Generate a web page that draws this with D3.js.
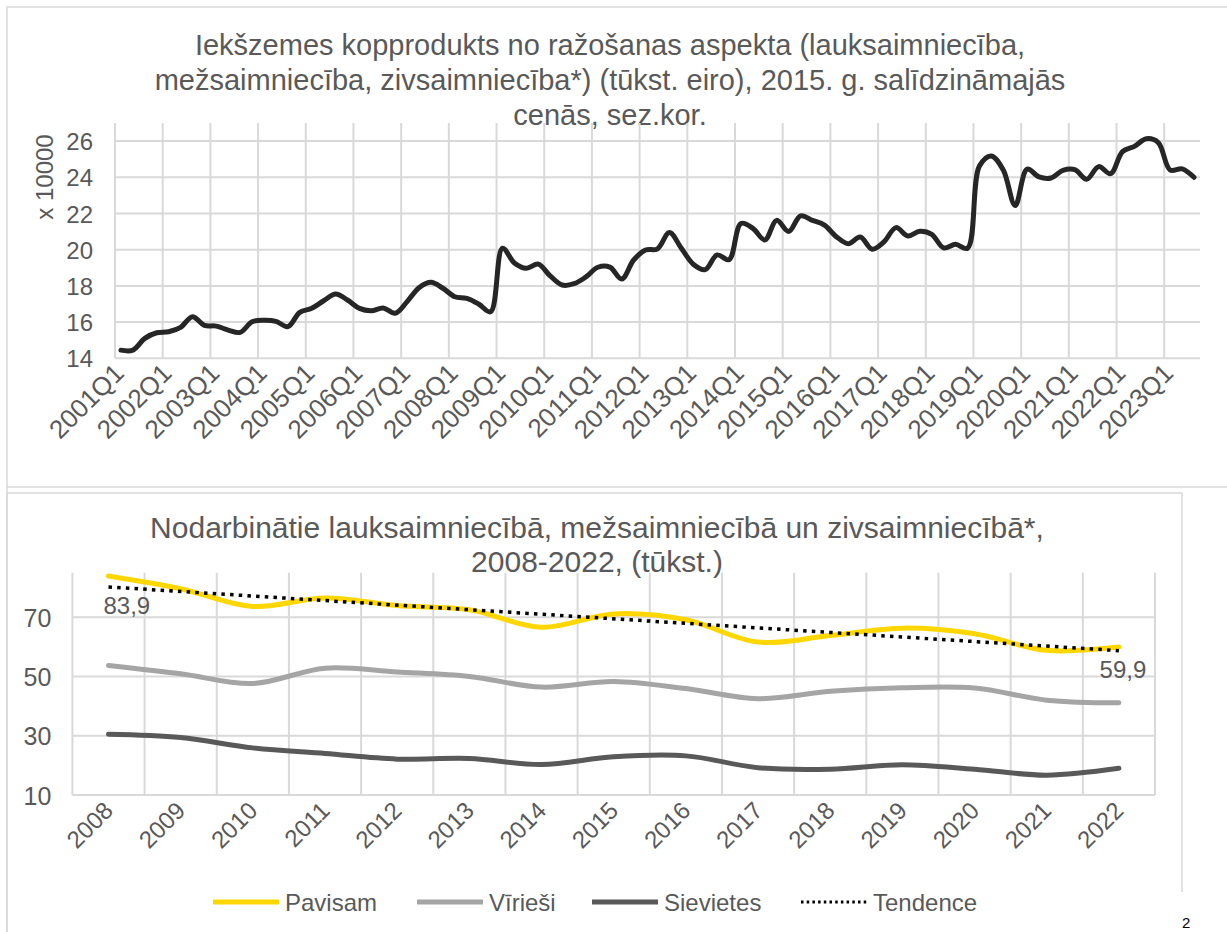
<!DOCTYPE html>
<html>
<head>
<meta charset="utf-8">
<script src="https://cdn.jsdelivr.net/npm/d3@7"></script>
<style>
	body { margin: 0; background: #fff; }
	svg { display: block; font-family: "Liberation Sans", Arial, sans-serif; }
	.tick text { fill: #595959; }
</style>
</head>
<body>
<div id="chart"></div>
<script>
	// ---- data: top chart (quarterly, x 10000 EUR)
	const startYear = 2001;
	const quarters = d3.range(91).map(i => (startYear + Math.floor(i / 4)) + "Q" + (i % 4 + 1));
	const ikp = [
		14.45, 14.45, 15.1, 15.41, 15.47, 15.71, 16.3, 15.82,
		15.78, 15.56, 15.43, 16.02, 16.1, 16.04, 15.75, 16.54,
		16.76, 17.18, 17.55, 17.22, 16.76, 16.63, 16.78, 16.49,
		17.13, 17.9, 18.2, 17.87, 17.4, 17.31, 17.0, 16.57,
		20.08, 19.27, 18.97, 19.2, 18.55, 18.05, 18.12, 18.5,
		19.03, 19.04, 18.38, 19.43, 19.98, 20.05, 20.95, 20.08,
		19.2, 18.9, 19.71, 19.45, 21.45, 21.18, 20.54, 21.62,
		21.0, 21.87, 21.62, 21.36, 20.72, 20.33, 20.7, 20.03,
		20.44, 21.22, 20.76, 21.02, 20.85, 20.1, 20.3, 20.08,
		24.62, 25.18, 24.4, 22.44, 24.45, 24.02, 23.96, 24.38,
		24.42, 23.89, 24.59, 24.2, 25.42, 25.71, 26.13, 25.92,
		24.4, 24.47, 24.0
	];
	const ikpTicks = [14, 16, 18, 20, 22, 24, 26];

	// ---- data: bottom chart (employed, thousands)
	const years = ["2008", "2009", "2010", "2011", "2012", "2013", "2014", "2015",
		"2016", "2017", "2018", "2019", "2020", "2021", "2022"];
	const pavisam = [83.9, 79.6, 73.6, 76.5, 73.9, 72.5, 66.6, 71.1, 69.1, 61.6, 63.8, 66.3, 64.4, 58.8, 59.9];
	const viriesi = [53.7, 50.9, 47.6, 52.8, 51.5, 50.0, 46.4, 48.3, 45.9, 42.5, 45.0, 46.2, 46.1, 42.0, 41.1];
	const sievietes = [30.5, 29.4, 25.9, 24.0, 22.1, 22.3, 20.3, 22.9, 23.2, 19.2, 18.7, 20.2, 18.7, 16.7, 19.0];
	const tendence = [80.2, 58.7]; // trendline at 2008 and 2022
	const empTicks = [10, 30, 50, 70];

	const textColor = "#595959";
	const gridColor = "#d9d9d9";

	const svg = d3.select("#chart").append("svg")
		.attr("width", 1227)
		.attr("height", 932);

	// chart frames
	svg.append("path")
		.attr("d", "M7,1000V7H1240M7,487H1240")
		.attr("fill", "none").attr("stroke", gridColor).attr("stroke-width", 1.5);
	svg.append("path")
		.attr("d", "M7,1000V493H1182V892")
		.attr("fill", "none").attr("stroke", gridColor).attr("stroke-width", 1.5);

	const addTitle = (lines, x, y0, dy, size) => {
		svg.append("g").selectAll("text").data(lines).enter().append("text")
			.attr("x", x)
			.attr("y", (d, i) => y0 + i * dy)
			.attr("text-anchor", "middle")
			.attr("font-size", size)
			.attr("fill", textColor)
			.text(d => d);
	};

	// ================= TOP CHART =================
	const box1 = { left: 115, right: 1200, top: 123, bottom: 358.3 };
	addTitle([
		"Iekšzemes kopprodukts no ražošanas aspekta (lauksaimniecība,",
		"mežsaimniecība, zivsaimniecība*) (tūkst. eiro), 2015. g. salīdzināmajās",
		"cenās, sez.kor."
	], 610, 55, 35, 29);

	const x1 = d3.scaleBand().domain(quarters).range([box1.left, box1.right]);
	const y1 = d3.scaleLinear().domain([14, 27]).range([box1.bottom, box1.top]);

	const g1 = svg.append("g");
	// horizontal grid
	g1.append("g").selectAll("line").data(ikpTicks).enter().append("line")
		.attr("x1", box1.left).attr("x2", box1.right)
		.attr("y1", d => y1(d)).attr("y2", d => y1(d))
		.attr("stroke", gridColor).attr("stroke-width", 2);
	// vertical grid every 4 quarters
	g1.append("g").selectAll("line").data(quarters.filter((d, i) => i % 4 === 0)).enter().append("line")
		.attr("x1", d => x1(d)).attr("x2", d => x1(d))
		.attr("y1", box1.top).attr("y2", box1.bottom)
		.attr("stroke", gridColor).attr("stroke-width", 2);

	const yAxis1 = g1.append("g")
		.attr("transform", `translate(${box1.left - 6},0)`)
		.call(d3.axisLeft(y1).tickValues(ikpTicks).tickSize(0).tickPadding(16));
	yAxis1.select(".domain").remove();
	yAxis1.selectAll("text").attr("font-size", 24).attr("dy", "0.36em");

	g1.append("text")
		.attr("transform", "translate(53,177) rotate(-90)")
		.attr("text-anchor", "middle")
		.attr("font-size", 24)
		.attr("fill", textColor)
		.text("x 10000");

	const xAxis1 = g1.append("g")
		.attr("transform", `translate(0,${box1.bottom})`)
		.call(d3.axisBottom(x1).tickValues(quarters.filter((d, i) => i % 4 === 0)).tickSize(0));
	xAxis1.select(".domain").remove();
	xAxis1.selectAll("text")
		.attr("font-size", 26)
		.attr("text-anchor", "end")
		.attr("transform", "translate(-4,8) rotate(-45)")
		.attr("dy", "0.35em");

	const line1 = d3.line()
		.x((d, i) => x1(quarters[i]) + x1.bandwidth() / 2)
		.y(d => y1(d))
		.curve(d3.curveCatmullRom.alpha(0.5));
	g1.append("path")
		.datum(ikp)
		.attr("d", line1)
		.attr("fill", "none")
		.attr("stroke", "#262626")
		.attr("stroke-width", 5)
		.attr("stroke-linejoin", "round")
		.attr("stroke-linecap", "round");

	// ================= BOTTOM CHART =================
	const box2 = { left: 72.4, right: 1155, top: 572.7, bottom: 795 };
	addTitle([
		"Nodarbinātie lauksaimniecībā, mežsaimniecībā un zivsaimniecībā*,",
		"2008-2022, (tūkst.)"
	], 597, 538, 34, 30);

	const x2 = d3.scaleBand().domain(years).range([box2.left, box2.right]);
	const y2 = d3.scaleLinear().domain([10, 85]).range([box2.bottom, box2.top]);
	const cx = d => x2(d) + x2.bandwidth() / 2;

	const g2 = svg.append("g");
	g2.append("g").selectAll("line").data(empTicks).enter().append("line")
		.attr("x1", box2.left).attr("x2", box2.right)
		.attr("y1", d => y2(d)).attr("y2", d => y2(d))
		.attr("stroke", gridColor).attr("stroke-width", 2);
	g2.append("g").selectAll("line").data(years.concat(["end"])).enter().append("line")
		.attr("x1", d => d === "end" ? box2.right : x2(d))
		.attr("x2", d => d === "end" ? box2.right : x2(d))
		.attr("y1", box2.top).attr("y2", box2.bottom)
		.attr("stroke", gridColor).attr("stroke-width", 2);

	const yAxis2 = g2.append("g")
		.attr("transform", `translate(${box2.left - 6},0)`)
		.call(d3.axisLeft(y2).tickValues(empTicks).tickSize(0).tickPadding(15));
	yAxis2.select(".domain").remove();
	yAxis2.selectAll("text").attr("font-size", 25).attr("dy", "0.36em");

	const xAxis2 = g2.append("g")
		.attr("transform", `translate(0,${box2.bottom})`)
		.call(d3.axisBottom(x2).tickSize(0));
	xAxis2.select(".domain").remove();
	xAxis2.selectAll("text")
		.attr("font-size", 24)
		.attr("text-anchor", "end")
		.attr("transform", "translate(-2,9) rotate(-45)")
		.attr("dy", "0.35em");

	const series = [
		{ name: "Pavisam", values: pavisam, color: "#ffd700" },
		{ name: "Vīrieši", values: viriesi, color: "#a5a5a5" },
		{ name: "Sievietes", values: sievietes, color: "#595959" }
	];
	const line2 = d3.line()
		.x((d, i) => cx(years[i]))
		.y(d => y2(d))
		.curve(d3.curveCatmullRom.alpha(0.5));

	series.slice().reverse().forEach(s => {
		g2.append("path")
			.datum(s.values)
			.attr("d", line2)
			.attr("fill", "none")
			.attr("stroke", s.color)
			.attr("stroke-width", 5)
			.attr("stroke-linejoin", "round")
			.attr("stroke-linecap", "round");
	});

	// trendline
	g2.append("line")
		.attr("x1", cx(years[0])).attr("y1", y2(tendence[0]))
		.attr("x2", cx(years[years.length - 1])).attr("y2", y2(tendence[1]))
		.attr("stroke", "#000")
		.attr("stroke-width", 3.5)
		.attr("stroke-dasharray", "3.5,5.2");

	// data labels
	const lastI = pavisam.length - 1;
	g2.append("text")
		.attr("x", cx(years[0]) - 5).attr("y", y2(pavisam[0]) + 38)
		.attr("font-size", 24).attr("fill", textColor)
		.text(String(pavisam[0]).replace(".", ","));
	g2.append("text")
		.attr("x", cx(years[lastI]) + 4).attr("y", y2(pavisam[lastI]) + 31)
		.attr("text-anchor", "middle")
		.attr("font-size", 24).attr("fill", textColor)
		.text(String(pavisam[lastI]).replace(".", ","));

	// legend
	const legendItems = [
		{ name: "Pavisam", color: "#ffd700", x: 213, dash: null },
		{ name: "Vīrieši", color: "#a5a5a5", x: 417, dash: null },
		{ name: "Sievietes", color: "#595959", x: 592, dash: null },
		{ name: "Tendence", color: "#000", x: 801, dash: "2.5,3.2" }
	];
	const lg = svg.append("g").attr("transform", "translate(0,902)");
	const li = lg.selectAll("g").data(legendItems).enter().append("g")
		.attr("transform", d => `translate(${d.x},0)`);
	li.append("line")
		.attr("x1", 0).attr("x2", 66)
		.attr("stroke", d => d.color)
		.attr("stroke-width", d => d.dash ? 3 : 5)
		.attr("stroke-dasharray", d => d.dash);
	li.append("text")
		.attr("x", 72).attr("dy", "0.36em")
		.attr("font-size", 24).attr("fill", textColor)
		.text(d => d.name);

	svg.append("text")
		.attr("x", 1182).attr("y", 928)
		.attr("font-size", 15).attr("fill", "#000")
		.text("2");
</script>
</body>
</html>
